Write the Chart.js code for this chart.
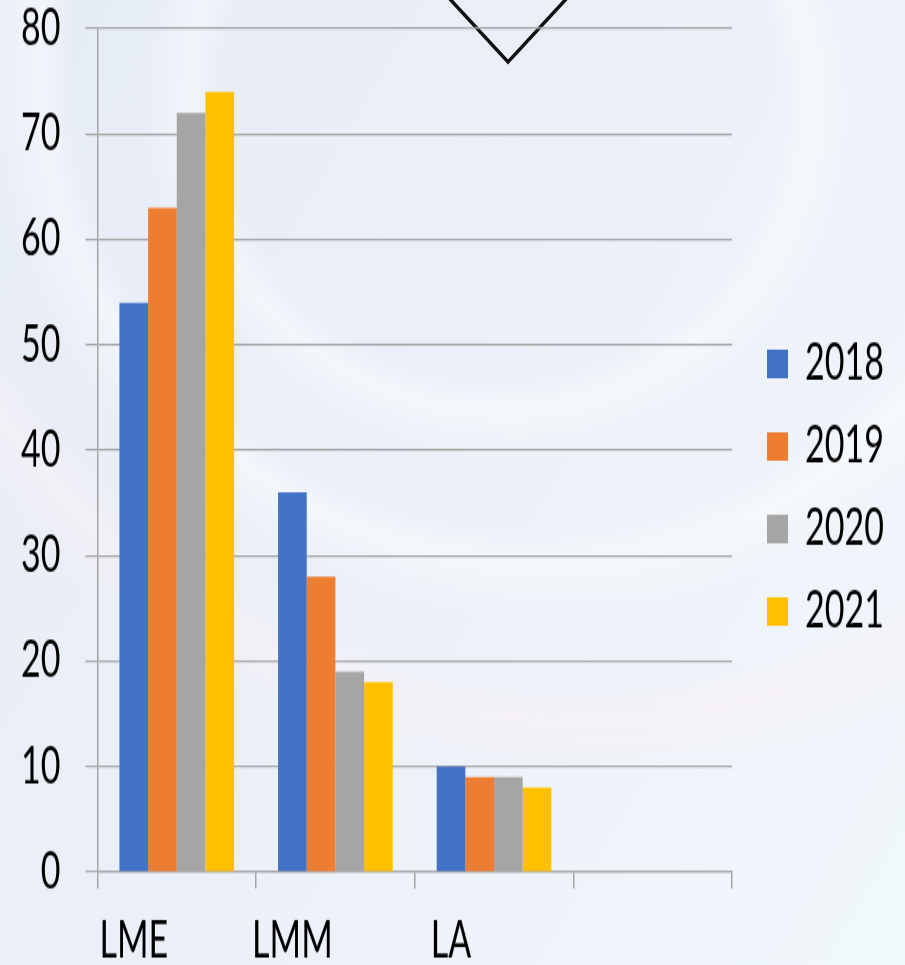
<!DOCTYPE html>
<html>
<head>
<meta charset="utf-8">
<script src="https://cdn.jsdelivr.net/npm/chart.js@4/dist/chart.umd.min.js"></script>
<style>
  html, body { margin: 0; padding: 0; }
  body {
    width: 905px; height: 965px; overflow: hidden; position: relative;
    background:
      radial-gradient(circle at 500px 100px, rgba(255,255,255,0) 0, rgba(255,255,255,0) 280px, rgba(255,255,255,0.45) 310px, rgba(255,255,255,0) 360px),
      radial-gradient(circle at 540px 60px, rgba(255,255,255,0) 0, rgba(255,255,255,0) 470px, rgba(255,255,255,0.45) 500px, rgba(255,255,255,0) 560px),
      radial-gradient(circle at 580px 20px, rgba(255,255,255,0) 0, rgba(255,255,255,0) 660px, rgba(250,240,246,0.6) 700px, rgba(255,255,255,0) 760px),
      linear-gradient(120deg, #e6ecf6 0%, #ebf0f8 45%, #eef4fa 75%, #f1f8fc 100%);
  }
  #deco { position: absolute; left: 0; top: 0; }
  /* the source picture is stretched vertically, so the canvas is too */
  #myChart { position: absolute; left: 0; top: 0; transform: scaleY(1.5008); transform-origin: 0 0; }
</style>
</head>
<body>
<svg id="deco" width="905" height="965"><polyline points="448,-3 508,62 568,-3" fill="none" stroke="#111" stroke-width="3.5"/></svg>
<canvas id="myChart" width="905" height="643"></canvas>
<script>
var categories = ["LME", "LMM", "LA", ""];
var years = ["2018", "2019", "2020", "2021"];
var values2018 = [54, 36, 10, null];
var values2019 = [63, 28, 9, null];
var values2020 = [72, 19, 9, null];
var values2021 = [74, 18, 8, null];
var yTicks = [0, 10, 20, 30, 40, 50, 60, 70, 80];
var barColors = ["#4472c4", "#ed7d31", "#a5a5a5", "#ffc000"];

var font = { family: "Lato, 'Open Sans', sans-serif", size: 34, lineHeight: 1 };
var gridGray = "#a6a6a6";

var series = [values2018, values2019, values2020, values2021];
var datasets = series.map(function (vals, i) {
  return {
    label: years[i],
    data: vals,
    backgroundColor: barColors[i],
    borderWidth: 0,
    barPercentage: 1,
    categoryPercentage: 0.723
  };
});

new Chart("myChart", {
  type: "bar",
  data: { labels: categories, datasets: datasets },
  options: {
    responsive: false,
    animation: false,
    devicePixelRatio: 1,
    layout: { padding: { top: 7, right: 14, left: 21, bottom: 0 } },
    plugins: {
      tooltip: { enabled: false },
      legend: {
        position: "right",
        labels: {
          font: font,
          color: "#000",
          boxWidth: 21,
          boxHeight: 19,
          padding: 21
        }
      }
    },
    scales: {
      x: {
        grid: { drawOnChartArea: false, color: gridGray, lineWidth: 1.5, tickLength: 11 },
        border: { color: gridGray, width: 1.2 },
        ticks: { font: font, color: "#000", padding: 18, labelOffset: -43 },
        afterFit: function (s) { s.height -= 19; }
      },
      y: {
        min: 0,
        max: 80,
        afterBuildTicks: function (axis) {
          axis.ticks = yTicks.map(function (v) { return { value: v }; });
        },
        grid: { color: gridGray, lineWidth: 1.2, tickLength: 12 },
        border: { color: gridGray, width: 1.5 },
        ticks: { font: font, color: "#000", padding: 25 },
        afterFit: function (s) { s.width -= 25; s.paddingTop = 19; }
      },
      gap: {
        position: "right",
        grid: { display: false },
        border: { display: false },
        ticks: { display: false },
        afterFit: function (s) { s.width = 14; }
      }
    }
  }
});
</script>
</body>
</html>
